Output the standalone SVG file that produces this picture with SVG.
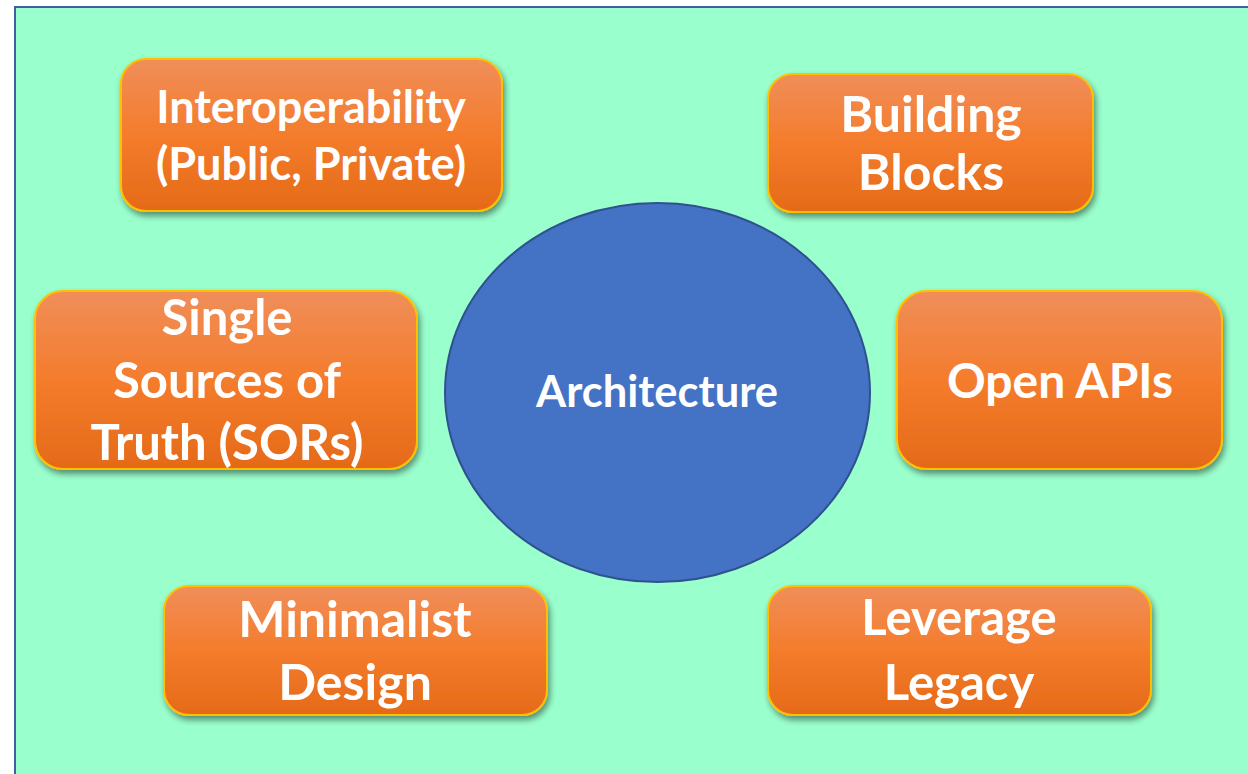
<svg xmlns="http://www.w3.org/2000/svg" width="1248" height="774" viewBox="0 0 1248 774">
<defs>
<linearGradient id="og" x1="0" y1="0" x2="0" y2="1">
<stop offset="0" stop-color="#f08e5a"/>
<stop offset="0.5" stop-color="#f47c2c"/>
<stop offset="1" stop-color="#e56a18"/>
</linearGradient>
<filter id="sh" x="-10%" y="-10%" width="125%" height="135%">
<feGaussianBlur in="SourceAlpha" stdDeviation="3"/>
<feOffset dx="2" dy="4" result="b"/>
<feComponentTransfer><feFuncA type="linear" slope="0.45"/></feComponentTransfer>
<feMerge><feMergeNode/><feMergeNode in="SourceGraphic"/></feMerge>
</filter>
</defs>
<style>
.box{fill:url(#og);stroke:#ffc000;stroke-width:2;filter:url(#sh)}
.t{font-family:Lato,"Open Sans","Liberation Sans",sans-serif;font-weight:bold;fill:#ffffff;text-anchor:middle}
</style>
<rect x="0" y="0" width="1248" height="774" fill="#ffffff"/>
<rect x="15" y="7" width="1250" height="780" fill="#99ffcc" stroke="#3f5f9f" stroke-width="2"/>
<g id="connectors"></g>
<g id="architecture">
<ellipse cx="657.5" cy="392.5" rx="212.5" ry="189.5" fill="#4472c4" stroke="#2f528f" stroke-width="2"/>
<text class="t" x="657" y="407" font-size="43.5">Architecture</text>
</g>
<g id="interoperability">
<rect class="box" x="121" y="59" width="381" height="152" rx="25"/>
<text class="t" x="311" y="123" font-size="45">Interoperability</text>
<text class="t" x="311" y="180" font-size="45">(Public, Private)</text>
</g>
<g id="building-blocks">
<rect class="box" x="768" y="74" width="325" height="138" rx="25"/>
<text class="t" x="931" y="132" font-size="50">Building</text>
<text class="t" x="931" y="190" font-size="50">Blocks</text>
</g>
<g id="single-sources">
<rect class="box" x="35" y="291" width="382" height="178" rx="28"/>
<text class="t" x="227" y="335" font-size="49">Single</text>
<text class="t" x="227" y="398" font-size="49">Sources of</text>
<text class="t" x="227" y="460" font-size="49">Truth (SORs)</text>
</g>
<g id="open-apis">
<rect class="box" x="897" y="291" width="325" height="178" rx="30"/>
<text class="t" x="1060" y="398" font-size="48">Open APIs</text>
</g>
<g id="minimalist-design">
<rect class="box" x="164" y="586" width="383" height="129" rx="25"/>
<text class="t" x="355" y="637" font-size="50">Minimalist</text>
<text class="t" x="355" y="700" font-size="50">Design</text>
</g>
<g id="leverage-legacy">
<rect class="box" x="768" y="586" width="383" height="129" rx="25"/>
<text class="t" x="959" y="635" font-size="49">Leverage</text>
<text class="t" x="959" y="700" font-size="49">Legacy</text>
</g>
</svg>
